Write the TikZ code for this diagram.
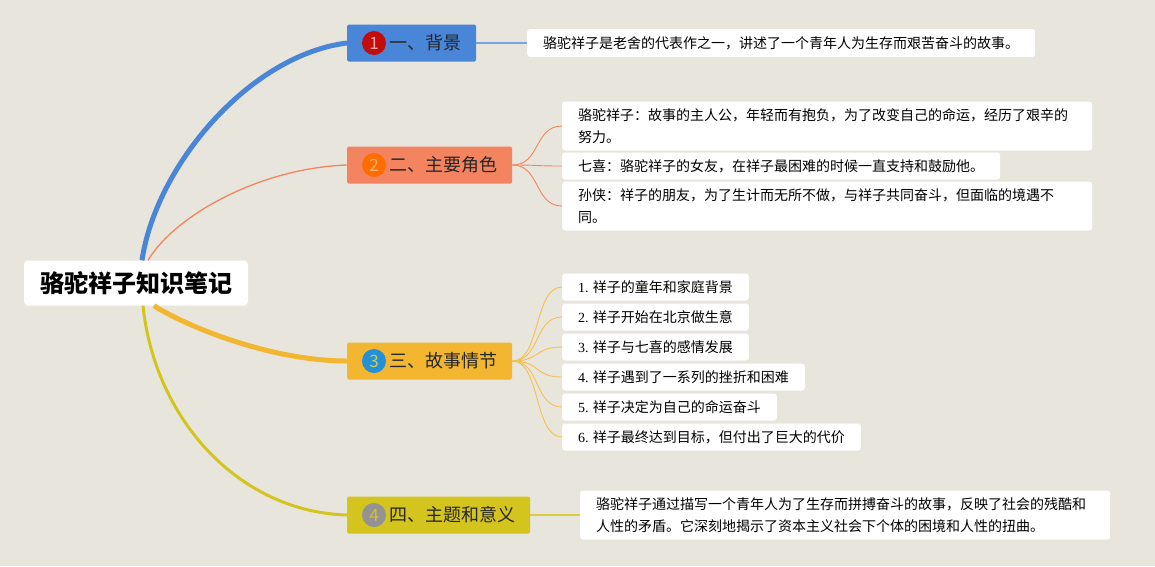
\documentclass[tikz,border=0pt]{standalone}
\usepackage{fontspec}
\newfontfamily\cjk{Noto Sans CJK SC}
\newfontfamily\latin{Liberation Serif}
\definecolor{paper}{HTML}{E8E5DD}
\definecolor{cblue}{HTML}{4A86D8}
\definecolor{corange}{HTML}{F4845F}
\definecolor{cgold}{HTML}{F2B630}
\definecolor{colive}{HTML}{D4C41E}
\begin{document}
\begin{tikzpicture}[x=1pt, y=-1pt,
    root/.style={fill=white, rounded corners=4pt, minimum height=45pt, inner xsep=16pt, font=\cjk\bfseries\fontsize{24}{28}\selectfont},
    topic/.style={rounded corners=1.5pt, minimum height=37pt, anchor=west, inner xsep=15pt, text=black!85, font=\cjk\fontsize{18}{20}\selectfont},
    badge/.style={circle, minimum size=24pt, inner sep=0pt, font=\cjk\fontsize{17}{17}\selectfont},
    leaf/.style={fill=white, rounded corners=3pt, anchor=west, inner xsep=16pt, minimum height=28pt, align=left, font=\cjk\fontsize{14}{22}\selectfont},
    wide/.style={leaf, text width=498pt, minimum height=49pt}
  ]
  \useasboundingbox[fill=paper] (0,0) rectangle (1155,566);
  \node[root] (root) at (136,283) {骆驼祥子知识笔记};
  \node[topic, fill=cblue] (t1) at (347,43) {\hspace*{27pt}一、背景};
  \node[topic, fill=corange] (t2) at (347,165) {\hspace*{27pt}二、主要角色};
  \node[topic, fill=cgold] (t3) at (347,361) {\hspace*{27pt}三、故事情节};
  \node[topic, fill=colive] (t4) at (347,515) {\hspace*{27pt}四、主题和意义};
  \node[badge, fill=red!75!black!95, text=red!35!white] (n1) at (374,43) {1};
  \node[badge, fill=orange!85!red, text=orange!55!white] (n2) at (374,165) {2};
  \node[badge, fill=cyan!70!blue!90, text=yellow!60!gray] (n3) at (374,361) {3};
  \node[badge, fill=gray!85, text=colive] (n4) at (374,515) {4};
  \draw[cblue, line width=5pt] ([xshift=6pt]root.north) .. controls +(14,-95) and +(-97,12) .. (t1.west);
  \draw[corange, line width=1.3pt] ([xshift=12pt]root.north) .. controls +(27,-45) and +(-87,3) .. (t2.west);
  \draw[cgold, line width=5pt] ([xshift=18pt]root.south) .. controls +(31,20) and +(-77,0) .. (t3.west);
  \draw[colive, line width=3pt] ([xshift=7pt]root.south) .. controls +(12,115) and +(-107,-3) .. (t4.west);
  \node[leaf] (l1) at (527,43) {骆驼祥子是老舍的代表作之一，讲述了一个青年人为生存而艰苦奋斗的故事。};
  \draw[cblue!75!white, line width=1.2pt] (t1.east) -- (l1.west);
  \node[wide] (l21) at (562,126) {骆驼祥子：故事的主人公，年轻而有抱负，为了改变自己的命运，经历了艰辛的\\努力。};
  \node[leaf, minimum height=27pt] (l22) at (562,166) {七喜：骆驼祥子的女友，在祥子最困难的时候一直支持和鼓励他。};
  \node[wide] (l23) at (562,206) {孙侠：祥子的朋友，为了生计而无所不做，与祥子共同奋斗，但面临的境遇不\\同。};
  \foreach \n in {l21,l22,l23}
    \draw[corange, line width=0.9pt] (t2.east) .. controls +(28,0) and +(-28,0) .. (\n.west);
  \foreach \i/\t in {1/祥子的童年和家庭背景, 2/祥子开始在北京做生意, 3/祥子与七喜的感情发展, 4/祥子遇到了一系列的挫折和困难, 5/祥子决定为自己的命运奋斗, 6/祥子最终达到目标，但付出了巨大的代价}{
    \node[leaf, minimum height=27pt] (l3\i) at (562,257+30*\i) {{\latin\i.} \t};
    \draw[cgold!85!white, line width=0.9pt] (t3.east) .. controls +(28,0) and +(-28,0) .. (l3\i.west);
  }
  \node[wide] (l4) at (580,515) {骆驼祥子通过描写一个青年人为了生存而拼搏奋斗的故事，反映了社会的残酷和\\人性的矛盾。它深刻地揭示了资本主义社会下个体的困境和人性的扭曲。};
  \draw[colive!85!white, line width=1.2pt] (t4.east) -- (l4.west);
\end{tikzpicture}
\end{document}
